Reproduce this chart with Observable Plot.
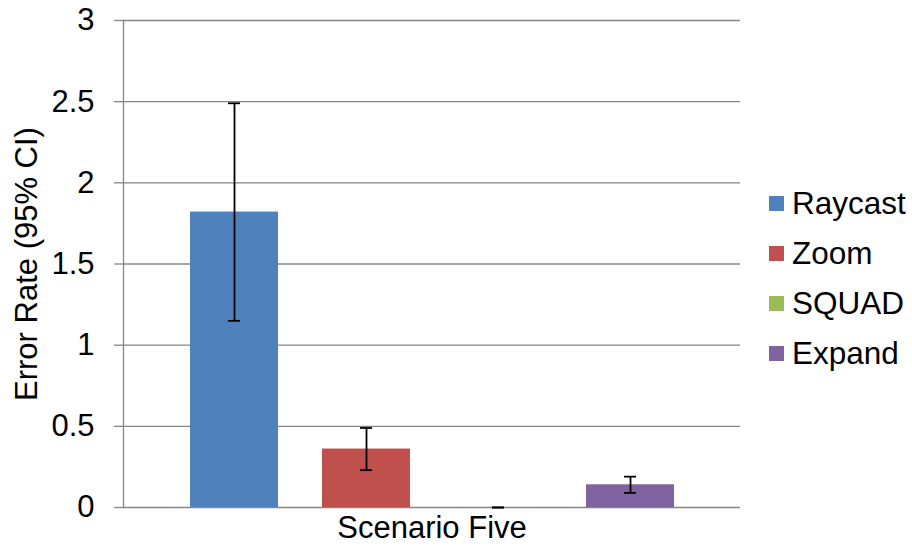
<!DOCTYPE html>
<html>
<head>
<meta charset="utf-8">
<script src="https://cdn.jsdelivr.net/npm/d3@7"></script>
<script src="https://cdn.jsdelivr.net/npm/@observablehq/plot@0.6"></script>
<style>
  html, body { margin: 0; padding: 0; background: #fff; }
  #wrap { position: relative; width: 912px; height: 546px; font-family: "Liberation Sans", Arial, sans-serif; }
  #legend { position: absolute; left: 769px; top: 178px; }
  .row { display: flex; align-items: center; height: 50px; font-size: 31.5px; color: #000; }
  .sw { width: 15px; height: 15px; margin-right: 8px; }
</style>
</head>
<body>
<div id="wrap"></div>
<script>
const categories = ["Scenario Five"];
const series = ["Raycast", "Zoom", "SQUAD", "Expand"];
const values = [1.82, 0.36, 0, 0.14];
const lows = [1.15, 0.23, 0, 0.09];
const highs = [2.49, 0.49, 0, 0.19];
const colors = ["#4F81BD", "#C0504D", "#9BBB59", "#8064A2"];
const yTicks = [0, 0.5, 1, 1.5, 2, 2.5, 3];
const yTickLabels = ["0", "0.5", "1", "1.5", "2", "2.5", "3"];
const yLabel = "Error Rate (95% CI)";

const data = series.map((s, i) => ({
  category: categories[0], series: s, value: values[i], low: lows[i], high: highs[i]
}));

const grid = "#868686";
const fs = 31;

const chart = Plot.plot({
  width: 912,
  height: 546,
  marginLeft: 123,
  marginRight: 172,
  marginTop: 20,
  marginBottom: 39,
  style: { fontFamily: "'Liberation Sans', Arial, sans-serif", fontSize: fs + "px", color: "#000", background: "#fff" },
  fx: { padding: 0, label: null },
  x: { domain: series, paddingInner: 1/3, paddingOuter: 0.5, axis: null },
  y: { domain: [0, 3], label: null },
  color: { domain: series, range: colors },
  marks: [
    Plot.gridY(yTicks, { stroke: grid, strokeOpacity: 1, strokeWidth: 1.3 }),
    Plot.axisY(yTicks, { tickSize: 9, tickPadding: 20, stroke: grid, strokeOpacity: 1, strokeWidth: 1.3,
      tickFormat: (d) => yTickLabels[yTicks.indexOf(d)], label: null, fontSize: fs }),
    Plot.frame({ anchor: "left", stroke: grid, strokeWidth: 1.3 }),
    Plot.axisFx({ anchor: "bottom", tickSize: 0, tickPadding: 8, label: null, fontSize: fs }),
    Plot.barY(data, { fx: "category", x: "series", y: "value", fill: "series" }),
    Plot.ruleX(data, { fx: "category", x: "series", y1: "low", y2: "high", stroke: "#000", strokeWidth: 1.8 }),
    Plot.tickY(data, { fx: "category", x: "series", y: "low", stroke: "#000", strokeWidth: 1.8, insetLeft: 38, insetRight: 38 }),
    Plot.tickY(data, { fx: "category", x: "series", y: "high", stroke: "#000", strokeWidth: 1.8, insetLeft: 38, insetRight: 38 }),
    Plot.text([yLabel], { frameAnchor: "left", rotate: -90, dx: -96, textAnchor: "middle", lineAnchor: "middle", fontSize: fs, fill: "#000" })
  ]
});

const wrap = document.getElementById("wrap");
wrap.appendChild(chart);

const legend = document.createElement("div");
legend.id = "legend";
series.forEach((s, i) => {
  const row = document.createElement("div");
  row.className = "row";
  const sw = document.createElement("div");
  sw.className = "sw";
  sw.style.background = colors[i];
  const t = document.createElement("span");
  t.textContent = s;
  row.appendChild(sw);
  row.appendChild(t);
  legend.appendChild(row);
});
wrap.appendChild(legend);
</script>
</body>
</html>
